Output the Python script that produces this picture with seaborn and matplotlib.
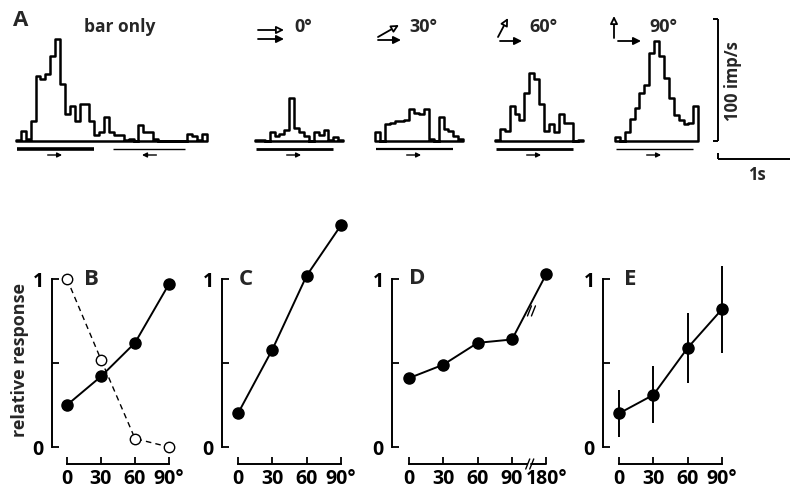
import numpy as np
import matplotlib
matplotlib.use("Agg")
import matplotlib.pyplot as plt
import seaborn as sns

sns.set_style("white")
plt.rcParams['font.family'] = ['Open Sans', 'DejaVu Sans']
plt.rcParams['font.weight'] = 'bold'

# ---------------- data ----------------
bin_s = 0.068          # histogram bin width (s)
sweep_s = 1.08         # stimulus sweep duration (s)
hist_bar_only = [0.5, 8, 2, 16, 53, 51, 55, 70, 84, 47, 22, 29, 16, 30, 30, 16, 5, 7,
                 20, 7, 5, 5, 1, 2, 0, 13, 7, 7, 2, 0, 0, 0, 0, 0, 0, 6, 4, 1, 6]
hist_0 = [1, 1, 0, 7, 4, 6, 9, 35, 11, 7, 4, 0, 7, 5, 9, 1, 3, 1]
hist_30 = [7, 0, 14, 15, 16, 16, 17, 26, 23, 22, 26, 2, 0, 20, 10, 8, 4, 2]
hist_60 = [0.5, 10, 8, 29, 22, 17, 39, 56, 51, 30, 8, 14, 7, 22, 15, 15, 0, 1]
hist_90 = [3, 0, 7, 18, 27, 39, 46, 72, 82, 70, 52, 35, 21, 17, 14, 15, 29]
hist_titles = ["bar only", "0°", "30°", "60°", "90°"]

angles = [0, 30, 60, 90]
angle_labels = ["0", "30", "60", "90°"]
b_filled = [0.25, 0.42, 0.62, 0.97]
b_open = [1.0, 0.52, 0.05, 0.0]
c_resp = [0.20, 0.58, 1.02, 1.32]
d_angles = [0, 30, 60, 90, 180]
d_labels = ["0", "30", "60", "90", "180°"]
d_resp = [0.41, 0.49, 0.62, 0.64, 1.03]
e_resp = [0.20, 0.31, 0.59, 0.82]
e_err = [0.14, 0.17, 0.21, 0.26]

# ---------------- layout ----------------
W_PX, H_PX = 790, 489
fig = plt.figure(figsize=(W_PX / 100, H_PX / 100), dpi=100)


def px_axes(left, top, right, bottom):
    return fig.add_axes([left / W_PX, 1 - bottom / H_PX,
                         (right - left) / W_PX, (bottom - top) / H_PX])


# ---- top row: PSTHs ----
PX_PER_S = 72.0
PX_PER_IMP = 1.22
BASE_PX = 142
axt = px_axes(0, 0, W_PX, 200)


def tx(px):
    return px / PX_PER_S


def ty(py):
    return (BASE_PX - py) / PX_PER_IMP


onsets_px = [16, 255, 375, 495, 615]
hists = [hist_bar_only, hist_0, hist_30, hist_60, hist_90]
stim_lw = [2.6, 2.0, 1.6, 2.0, 1.0]
y_stim = ty(149.5)
y_arrow = ty(156)

for i, (on, h) in enumerate(zip(onsets_px, hists)):
    t0 = tx(on)
    t1 = t0 + bin_s * len(h)
    centers = t0 + bin_s * (np.arange(len(h)) + 0.5)
    sns.histplot(x=centers, weights=np.asarray(h, float), bins=len(h),
                 binrange=(t0, t1), element="step", fill=True,
                 color="black", facecolor=(1, 1, 1, 0), edgecolor="black",
                 linewidth=1.8, ax=axt)
    # stimulus sweep
    axt.hlines(y_stim, t0 + 0.01, t0 + sweep_s, color="black", lw=stim_lw[i])
    mid = t0 + sweep_s / 2
    axt.annotate("", xy=(mid + 0.1, y_arrow), xytext=(mid - 0.1, y_arrow),
                 arrowprops=dict(arrowstyle="-|>", color="black", lw=1.0,
                                 mutation_scale=7, shrinkA=0, shrinkB=0))
    if i == 0:
        r0 = t0 + 1.35
        axt.hlines(y_stim, r0, r0 + 1.0, color="black", lw=1.0)
        rm = r0 + 0.5
        axt.annotate("", xy=(rm - 0.1, y_arrow), xytext=(rm + 0.1, y_arrow),
                     arrowprops=dict(arrowstyle="-|>", color="black", lw=1.0,
                                     mutation_scale=7, shrinkA=0, shrinkB=0))

axt.set_xlim(0, W_PX / PX_PER_S)
axt.set_ylim(-(200 - BASE_PX) / PX_PER_IMP, BASE_PX / PX_PER_IMP)
axt.axis("off")

axt.text(tx(21), ty(21), "A", fontsize=16, fontweight="bold", ha="center", va="center")
axt.text(tx(120), ty(27), hist_titles[0], fontsize=12.5, ha="center", va="center")
title_x_px = [None, 303, 423, 543, 663]
for i in range(1, 5):
    axt.text(tx(title_x_px[i]), ty(27), hist_titles[i], fontsize=13,
             ha="center", va="center")


def arrow(p0, p1, filled):
    axt.annotate("", xy=(tx(p1[0]), ty(p1[1])), xytext=(tx(p0[0]), ty(p0[1])),
                 arrowprops=dict(arrowstyle="-|>", lw=1.3, mutation_scale=11,
                                 fc="black" if filled else "white", ec="black",
                                 shrinkA=0, shrinkB=0))


# stimulus icons: open = texture direction, filled = bar direction
arrow((258, 31), (284, 31), False)
arrow((258, 40), (284, 40), True)
arrow((378, 38), (399, 26), False)
arrow((378, 41), (401, 41), True)
arrow((498, 38), (508, 19), False)
arrow((500, 42), (522, 42), True)
arrow((614, 39), (614, 17), False)
arrow((618, 42), (641, 42), True)

# scale bars
axt.vlines(tx(718), 0, 100, color="black", lw=1.4)
axt.hlines([0, 100], tx(713), tx(718), color="black", lw=1.4)
axt.hlines(ty(160), tx(718), tx(790), color="black", lw=1.4)
axt.vlines(tx(718), ty(160), ty(154), color="black", lw=1.4)
axt.text(tx(733), 50, "100 imp/s", rotation=90, fontsize=12, ha="center", va="center")
axt.text(tx(757), ty(175), "1s", fontsize=12, ha="center", va="center")

# ---- bottom row ----
Y0_PX, Y1_PX, XB_PX, TOP_PX = 448, 280, 465, 212


def panel(x0px, x90px, spine_off, xmax_pos):
    sx = (x90px - x0px) / 90.0
    sy = float(Y0_PX - Y1_PX)
    right_px = x0px + xmax_pos * sx + 14
    ax = px_axes(x0px - spine_off, TOP_PX, right_px, XB_PX)
    ax.set_xlim(-spine_off / sx, xmax_pos + 14 / sx)
    ax.set_ylim(-(XB_PX - Y0_PX) / sy, (Y0_PX - TOP_PX) / sy)
    sns.despine(ax=ax)
    for s in ("left", "bottom"):
        ax.spines[s].set_linewidth(1.4)
        ax.spines[s].set_color("black")
    ax.spines["left"].set_bounds(0, 1)
    ax.spines["bottom"].set_bounds(0, xmax_pos)
    ax.set_yticks([0, 0.5, 1])
    ax.set_yticklabels(["0", "", "1"])
    ax.tick_params(axis="both", direction="in", length=5, width=1.3,
                   labelsize=14, colors="black", bottom=True, left=True)
    ax.tick_params(axis="y", pad=6)
    ax.tick_params(axis="x", pad=3)
    ax.patch.set_alpha(0)
    return ax, sx, sy


lkw = dict(color="black", linewidth=1.4, markersize=8, mec="black", mew=1.0)

# B
axB, _, _ = panel(67, 169, 15, 90)
sns.lineplot(x=angles, y=b_open, marker="o", mfc="white", linestyle=(0, (4, 3)),
             ax=axB, **{**lkw, "linewidth": 1.0, "markersize": 7.5})
sns.lineplot(x=angles, y=b_filled, marker="o", mfc="black", ax=axB, **lkw)
axB.set_xticks(angles)
axB.set_xticklabels(angle_labels)
axB.text(22, 1.0, "B", fontsize=16, fontweight="bold", ha="center", va="center")

# C
axC, _, _ = panel(238, 341, 16, 90)
sns.lineplot(x=angles, y=c_resp, marker="o", mfc="black", ax=axC, **lkw)
for l in axC.lines:
    l.set_clip_on(False)
axC.set_xticks(angles)
axC.set_xticklabels(angle_labels)
axC.text(7, 1.0, "C", fontsize=16, fontweight="bold", ha="center", va="center")

# D (broken axis: 180 drawn 30 units after 90)
d_pos = [a if a <= 90 else a - 60 for a in d_angles]
axD, sxD, syD = panel(409, 512, 17, d_pos[-1])
sns.lineplot(x=d_pos, y=d_resp, marker="o", mfc="black", ax=axD, **lkw)
axD.set_xticks(d_pos)
axD.set_xticklabels(d_labels)
axD.spines["bottom"].set_bounds(0, 103)
yb = axD.get_ylim()[0]
axD.plot([107, d_pos[-1]], [yb, yb], color="black", lw=1.4, clip_on=False)
for dx in (0, 3.5):
    axD.plot([102 + dx, 105.5 + dx], [yb - 0.03, yb + 0.03], color="black",
             lw=1.0, clip_on=False)
    axD.plot([103.5 + dx, 107 + dx], [0.78, 0.84], color="black", lw=1.0)
axD.text(7, 1.01, "D", fontsize=16, fontweight="bold", ha="center", va="center")

# E
axE, _, _ = panel(619, 722, 16, 90)
axE.errorbar(angles, e_resp, yerr=e_err, fmt="none", ecolor="black",
             elinewidth=1.4, capsize=0)
sns.lineplot(x=angles, y=e_resp, marker="o", mfc="black", ax=axE, **lkw)
axE.set_xticks(angles)
axE.set_xticklabels(angle_labels)
axE.text(10, 1.0, "E", fontsize=16, fontweight="bold", ha="center", va="center")

fig.text(20 / W_PX, 1 - 360 / H_PX, "relative response", rotation=90,
         fontsize=13, ha="center", va="center")

fig.savefig("out.png", dpi=100)
